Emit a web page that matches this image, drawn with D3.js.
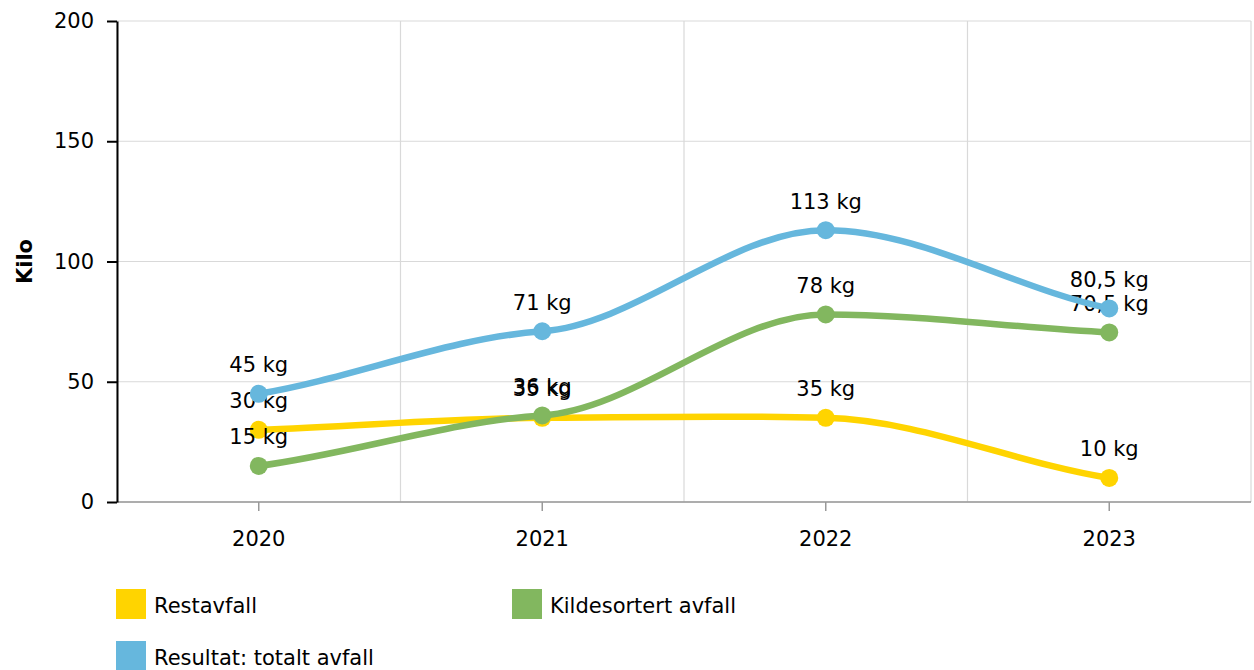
<!DOCTYPE html>
<html><head><meta charset="utf-8">
<script src="https://cdn.jsdelivr.net/npm/d3@7"></script>
<style>
html,body{margin:0;padding:0;background:#fff;}
svg{display:block;font-family:Verdana,"DejaVu Sans",sans-serif;}
</style></head>
<body><svg id="chart" width="1254" height="670"></svg>
<script>
const categories = ["2020", "2021", "2022", "2023"];
const restavfall = [30, 35, 35, 10];
const kildesortert = [15, 36, 78, 70.5];
const totaltAvfall = [45, 71, 113, 80.5];
const yTicks = [0, 50, 100, 150, 200];
const seriesNames = ["Restavfall", "Kildesortert avfall", "Resultat: totalt avfall"];
const seriesColors = ["#ffd400", "#82b75f", "#66b7dd"];
const yTitle = "Kilo";
const unit = "kg";

(function () {
const series = [restavfall, kildesortert, totaltAvfall].map((v, i) => ({name: seriesNames[i], color: seriesColors[i], values: v}));

const svg = d3.select("#chart");
const pl = 117, pr = 1251, pt0 = 21, pb = 502;
const FS = 21;
const FF = "Verdana, 'DejaVu Sans', sans-serif";

const x = d3.scaleBand().domain(categories).range([pl, pr]).padding(0);
const xc = c => x(c) + x.bandwidth() / 2;
const y = d3.scaleLinear().domain([0, 200]).range([pb, pt0]);

// soft spline curve (flattened tangents) usable as a d3 curve factory
function SoftCurve(context) { this._context = context; }
SoftCurve.prototype = {
  areaStart() { this._line = 0; }, areaEnd() { this._line = NaN; },
  lineStart() { this._pts = []; },
  point(px, py) { this._pts.push([+px, +py]); },
  lineEnd() {
    const p = this._pts, n = p.length, c = this._context;
    if (!n) return;
    const MID = 0.25, END = 0.75;
    const m = p.map((pt, i) => {
      if (n < 2) return 0;
      if (i === 0) return END * (p[1][1] - p[0][1]) / (p[1][0] - p[0][0]);
      if (i === n - 1) return END * (p[n - 1][1] - p[n - 2][1]) / (p[n - 1][0] - p[n - 2][0]);
      const a = p[i][1] - p[i - 1][1], b = p[i + 1][1] - p[i][1];
      if (a * b < 0) return 0;
      return MID * (p[i + 1][1] - p[i - 1][1]) / (p[i + 1][0] - p[i - 1][0]);
    });
    c.moveTo(p[0][0], p[0][1]);
    for (let i = 1; i < n; i++) {
      const h = (p[i][0] - p[i - 1][0]) / 3;
      c.bezierCurveTo(p[i - 1][0] + h, p[i - 1][1] + m[i - 1] * h, p[i][0] - h, p[i][1] - m[i] * h, p[i][0], p[i][1]);
    }
  }
};
const curveSoft = context => new SoftCurve(context);

// gridlines
const grid = svg.append("g");
grid.selectAll("line.h").data(yTicks).join("line")
  .attr("x1", pl).attr("x2", pr).attr("y1", d => y(d)).attr("y2", d => y(d))
  .attr("stroke", "#d9d9d9").attr("stroke-width", 1.2);
const vb = categories.map(c => x(c)).concat([pr]);
grid.selectAll("line.v").data(vb).join("line")
  .attr("x1", d => d).attr("x2", d => d).attr("y1", pt0).attr("y2", pb)
  .attr("stroke", "#d9d9d9").attr("stroke-width", 1.2);

// x axis
const xAxis = svg.append("g").attr("transform", `translate(0,${pb})`)
  .call(d3.axisBottom(x).tickSize(9).tickSizeOuter(0).tickPadding(20));
xAxis.select(".domain").remove();
xAxis.append("line").attr("x1", pl).attr("x2", pr).attr("stroke", "#999").attr("stroke-width", 1.5);
xAxis.selectAll(".tick line").attr("stroke", "#999").attr("stroke-width", 1.5);
xAxis.selectAll(".tick text").attr("font-size", FS).attr("font-family", FF).attr("fill", "#000");

// y axis
const yAxis = svg.append("g").attr("transform", `translate(${pl},0)`)
  .call(d3.axisLeft(y).tickValues(yTicks).tickSize(10).tickSizeOuter(0).tickPadding(13));
yAxis.select(".domain").attr("stroke", "#000").attr("stroke-width", 2);
yAxis.selectAll(".tick line").attr("stroke", "#000").attr("stroke-width", 2);
yAxis.selectAll(".tick text").attr("font-size", FS).attr("font-family", FF).attr("fill", "#000");

svg.append("text").attr("transform", `translate(32,${(pt0 + pb) / 2}) rotate(-90)`)
  .attr("text-anchor", "middle").attr("font-size", FS).attr("font-weight", "bold").attr("fill", "#000").text(yTitle);

const fmt = v => String(v).replace(".", ",") + " " + unit;
const line = d3.line().x((d, i) => xc(categories[i])).y(d => y(d)).curve(curveSoft);

series.forEach(s => {
  const g = svg.append("g");
  g.append("path").attr("d", line(s.values)).attr("fill", "none")
    .attr("stroke", s.color).attr("stroke-width", 6.5).attr("stroke-linecap", "round").attr("stroke-linejoin", "round");
  g.selectAll("circle").data(s.values).join("circle")
    .attr("cx", (d, i) => xc(categories[i])).attr("cy", d => y(d)).attr("r", 9).attr("fill", s.color);
  g.selectAll("text").data(s.values).join("text")
    .attr("x", (d, i) => xc(categories[i])).attr("y", d => y(d) - 21.5)
    .attr("text-anchor", "middle").attr("font-size", FS).attr("fill", "#000").text(d => fmt(d));
});

// legend
const legendPos = [[116, 589], [512, 589], [116, 641]];
const lg = svg.append("g");
series.forEach((s, i) => {
  const [lx, ly] = legendPos[i];
  lg.append("rect").attr("x", lx).attr("y", ly).attr("width", 30).attr("height", 30).attr("fill", s.color);
  lg.append("text").attr("x", lx + 38).attr("y", ly + 24).attr("font-size", FS).attr("fill", "#000").text(s.name);
});
})();
</script></body></html>
